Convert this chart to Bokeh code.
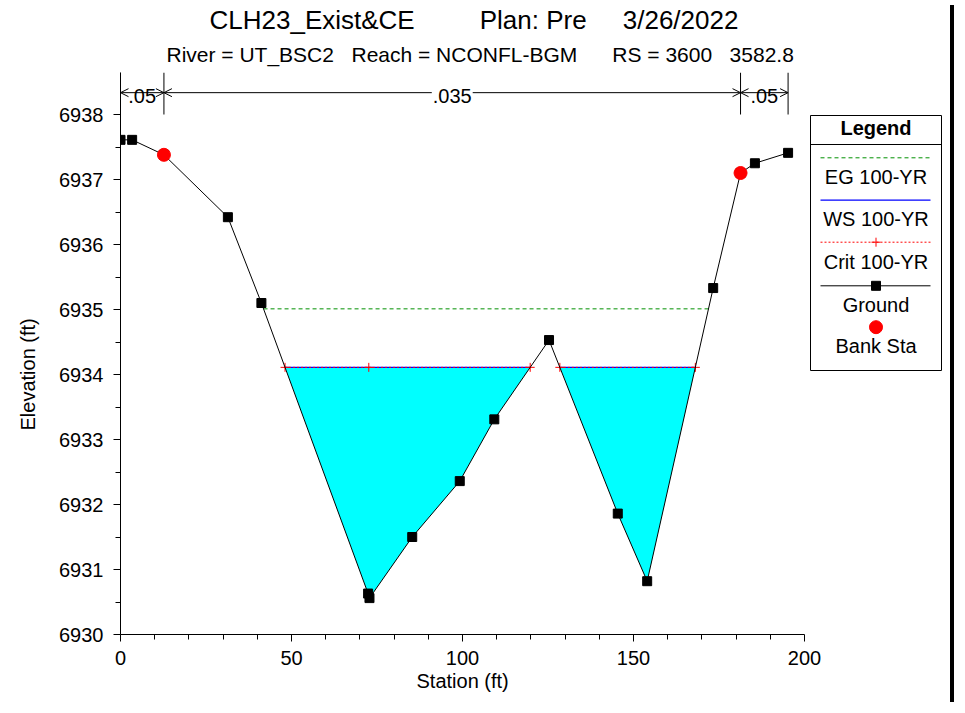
import numpy as np
from bokeh.plotting import figure
from bokeh.models import Range1d, FixedTicker, Label, Arrow, OpenHead, Title, Div
from bokeh.layouts import row
from bokeh.embed import file_html
from bokeh.resources import INLINE

# ---------------- data ----------------
station = [0.0, 3.4, 12.7, 31.4, 41.2, 72.4, 72.8, 85.3, 99.2, 109.3,
           125.3, 145.4, 154.0, 173.3, 181.3, 185.5, 195.2]
elevation = [6937.61, 6937.61, 6937.38, 6936.42, 6935.10, 6930.63, 6930.56,
             6931.50, 6932.36, 6933.31, 6934.53, 6931.86, 6930.82, 6935.33,
             6937.10, 6937.25, 6937.41]
bank_station = [12.7, 181.3]
bank_elevation = [6937.38, 6937.10]
ws_elev = 6934.11
eg_elev = 6935.01
crit_elev = 6934.11
crit_extra_station = [72.6]
n_labels = [".05", ".035", ".05"]
n_bounds = [0.0, 12.7, 181.3, 195.2]
x_ticks = [0, 50, 100, 150, 200]
x_minor = [10, 20, 30, 40, 60, 70, 80, 90, 110, 120, 130, 140, 160, 170, 180, 190]
y_ticks = [6930, 6931, 6932, 6933, 6934, 6935, 6936, 6937, 6938]
y_minor = [6930.5, 6931.5, 6932.5, 6933.5, 6934.5, 6935.5, 6936.5, 6937.5]

title_parts = ["CLH23_Exist&CE", "Plan: Pre", "3/26/2022"]
subtitle_parts = ["River = UT_BSC2", "Reach = NCONFL-BGM", "RS = 3600", "3582.8"]
legend_labels = ["EG 100-YR", "WS 100-YR", "Crit 100-YR", "Ground", "Bank Sta"]

FONT = "Liberation Sans"
NB = "\u00a0"


def wet_pieces(xs, zs, h):
    """Split the ground section into wetted pieces below level h."""
    pieces = []
    cur = None
    for i in range(len(xs) - 1):
        x0, z0, x1, z1 = xs[i], zs[i], xs[i + 1], zs[i + 1]
        if cur is None:
            if z0 < h:
                cur = [(x0, z0)]
            elif z1 < h:
                xc = x0 + (h - z0) / (z1 - z0) * (x1 - x0)
                cur = [(xc, h)]
        if cur is not None:
            if z1 < h:
                cur.append((x1, z1))
            else:
                xc = x0 + (h - z0) / (z1 - z0) * (x1 - x0)
                cur.append((xc, h))
                pieces.append(cur)
                cur = None
    return pieces


ws_pieces = wet_pieces(station, elevation, ws_elev)
eg_pieces = wet_pieces(station, elevation, eg_elev)
crit_pieces = wet_pieces(station, elevation, crit_elev)

# ---------------- layout geometry (pixels) ----------------
W, H = 945, 697
FL, FT, FB = 120, 72, 634          # frame left / top / bottom
PX_200 = 804                        # pixel of station 200
X_PER_PX = 200.0 / (PX_200 - FL)
X_END = 200 + (W - PX_200) * X_PER_PX
Y_PER_PX = 1.0 / 65.0
Y_TOP = 6930 + (FB - FT) * Y_PER_PX


def X(px):   # pixel -> station (for the legend box placed right of the section)
    return (px - FL) * X_PER_PX


def Y(py):
    return 6930 + (FB - py) * Y_PER_PX


p = figure(width=W, height=H, x_range=Range1d(0, X_END), y_range=Range1d(6930, Y_TOP),
           output_backend="svg", toolbar_location=None, title=None,
           min_border_left=FL, min_border_right=0,
           min_border_top=FT, min_border_bottom=H - FB)
p.outline_line_color = None
p.grid.visible = False
p.background_fill_color = "white"
p.border_fill_color = "white"

p.xaxis.ticker = FixedTicker(ticks=x_ticks, minor_ticks=x_minor)
p.yaxis.ticker = FixedTicker(ticks=y_ticks, minor_ticks=y_minor)
p.xaxis.bounds = (0, 200)
for ax in (p.xaxis[0], p.yaxis[0]):
    ax.major_tick_out = 7
    ax.major_tick_in = 0
    ax.minor_tick_out = 5
    ax.minor_tick_in = 0
    ax.axis_line_color = "black"
    ax.major_tick_line_color = "black"
    ax.minor_tick_line_color = "black"
    ax.major_label_text_font = FONT
    ax.major_label_text_font_size = "20px"
    ax.major_label_text_color = "black"
p.yaxis.major_label_standoff = 10
p.xaxis.major_label_standoff = 9

# axis titles as side titles so they can sit where the reference has them
p.add_layout(Title(text="Elevation (ft)", align="left", offset=204, text_font=FONT,
                   text_font_size="20px", text_font_style="normal", text_color="black",
                   vertical_align="top", standoff=31), "left")
p.add_layout(Title(text="Station (ft)", align="left", offset=296, text_font=FONT,
                   text_font_size="20px", text_font_style="normal", text_color="black",
                   standoff=0), "below")

# titles (first added sits next to the frame)
sub_text = (subtitle_parts[0] + NB * 3 + subtitle_parts[1] + NB * 6 +
            subtitle_parts[2] + NB * 3 + subtitle_parts[3])
main_text = title_parts[0] + NB * 9 + title_parts[1] + NB * 5 + title_parts[2]
p.add_layout(Title(text=sub_text, align="left", offset=46, text_font=FONT,
                   text_font_size="21px", text_font_style="normal", text_color="black",
                   standoff=13), "above")
p.add_layout(Title(text=main_text, align="left", offset=89, text_font=FONT,
                   text_font_size="26px", text_font_style="normal", text_color="black",
                   standoff=0), "above")

# water fill
p.patches([[pt[0] for pt in pc] for pc in ws_pieces],
          [[pt[1] for pt in pc] for pc in ws_pieces],
          fill_color="#00FFFF", line_color=None)

# EG line
for pc in eg_pieces:
    p.line([pc[0][0], pc[-1][0]], [eg_elev, eg_elev], line_color="#009000",
           line_width=1, line_dash="4 3")
# WS line
for pc in ws_pieces:
    p.line([pc[0][0], pc[-1][0]], [ws_elev, ws_elev], line_color="#0000FF", line_width=1.2)
# Crit line
crit_x = []
for pc in crit_pieces:
    p.line([pc[0][0], pc[-1][0]], [crit_elev, crit_elev], line_color="#FF0000",
           line_width=1, line_dash="2 2")
    crit_x += [pc[0][0], pc[-1][0]]
crit_x += crit_extra_station
p.scatter(crit_x, [crit_elev] * len(crit_x), marker="cross", size=9,
          line_color="#FF0000", line_width=1)

# ground
p.line(station, elevation, line_color="black", line_width=1)
p.scatter(station, elevation, marker="square", size=9, fill_color="black", line_color="black")
p.scatter(bank_station, bank_elevation, marker="circle", size=13,
          fill_color="#FF0000", line_color="#FF0000")

# Manning's n brackets
n_line_y = 6938 + (Y_TOP - 6938) * 0.52
for b in n_bounds:
    p.segment(x0=[b], y0=[6938.0], x1=[b], y1=[Y_TOP], line_color="black", line_width=1)
for i, lab in enumerate(n_labels):
    x0, x1 = n_bounds[i], n_bounds[i + 1]
    p.add_layout(Arrow(start=OpenHead(size=8, line_width=1), end=OpenHead(size=8, line_width=1),
                       x_start=x0, y_start=n_line_y, x_end=x1, y_end=n_line_y,
                       line_width=1, line_color="black"))
    p.add_layout(Label(x=(x0 + x1) / 2, y=n_line_y, y_offset=-3, text=lab, text_align="center",
                       text_baseline="middle", text_font=FONT, text_font_size="20px",
                       text_color="black", background_fill_color="white",
                       background_fill_alpha=1.0 if i == 1 else 0.0, padding=1))

# ---------------- legend box (right of the section) ----------------
bx0, bx1, by0, by1 = 810, 941, 115, 370
p.quad(left=X(bx0), right=X(bx1), top=Y(by0), bottom=Y(by1), fill_color="white",
       line_color="black", line_width=1)
p.segment(x0=[X(bx0)], y0=[Y(144)], x1=[X(bx1)], y1=[Y(144)], line_color="black", line_width=1)

cx = X((bx0 + bx1) / 2)
lx0, lx1 = X(bx0 + 10), X(bx1 - 11)


def lg_text(py, text, style="normal"):
    p.add_layout(Label(x=cx, y=Y(py), text=text, text_align="center", text_baseline="middle",
                       text_font=FONT, text_font_size="20px", text_font_style=style,
                       text_color="black"))


lg_text(127, "Legend", "bold")
# EG
p.line([lx0, lx1], [Y(157.3)] * 2, line_color="#009000", line_width=1, line_dash="4 3")
lg_text(176, legend_labels[0])
# WS
p.line([lx0, lx1], [Y(199.7)] * 2, line_color="#0000FF", line_width=1.2)
lg_text(218, legend_labels[1])
# Crit
p.line([lx0, lx1], [Y(241.7)] * 2, line_color="#FF0000", line_width=1, line_dash="2 2")
p.scatter([cx], [Y(241.7)], marker="cross", size=9, line_color="#FF0000", line_width=1)
lg_text(261, legend_labels[2])
# Ground
p.line([lx0, lx1], [Y(285.3)] * 2, line_color="black", line_width=1)
p.scatter([cx], [Y(285.3)], marker="square", size=9, fill_color="black", line_color="black")
lg_text(304, legend_labels[3])
# Bank
p.scatter([cx], [Y(326.7)], marker="circle", size=13, fill_color="#FF0000", line_color="#FF0000")
lg_text(345, legend_labels[4])

bar = Div(text="", width=4, height=H, styles={"background-color": "black"})

layout = row(p, bar)
open("out.html", "w").write(file_html(layout, INLINE))
